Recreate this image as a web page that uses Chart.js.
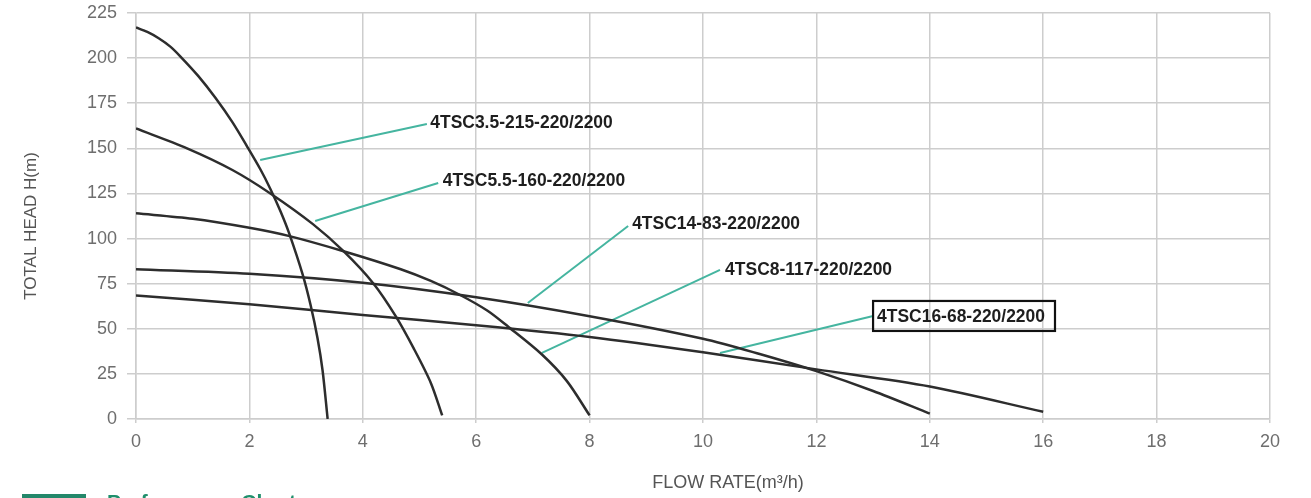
<!DOCTYPE html>
<html>
<head>
<meta charset="utf-8">
<title>Performance Chart</title>
<script src="https://cdn.jsdelivr.net/npm/chart.js@4.4.1/dist/chart.umd.min.js"></script>
<style>
  html, body { margin: 0; padding: 0; background: #fff; overflow: hidden; }
  #wrap { position: relative; width: 1311px; height: 498px; overflow: hidden; }
  #chart { position: absolute; left: 0; top: 0; }
  .tag { position: absolute; left: 22px; top: 494px; width: 64px; height: 12px; background: #23876a; }
  .caption { position: absolute; left: 107px; top: 490px; line-height: 21px;
             font: bold 21px "Liberation Sans", Arial, sans-serif; color: #1f8f6c; white-space: nowrap; }
</style>
</head>
<body>
<div id="wrap">
  <canvas id="chart" width="1311" height="498"></canvas>
  <div class="tag"></div>
  <div class="caption">Performance Chart</div>
</div>
<script>
// 型号名称
const pumpNames = ['4TSC3.5-215-220/2200', '4TSC5.5-160-220/2200', '4TSC8-117-220/2200',
                   '4TSC14-83-220/2200', '4TSC16-68-220/2200'];

// 各型号曲线 (流量 m3/h, 扬程 m)
const flow1 = [0, 0.2, 0.4, 0.6, 0.78, 1.1, 1.4, 1.7, 1.96, 2.2, 2.37, 2.55, 2.7, 2.94, 3.08, 3.2, 3.29, 3.38];
const head1 = [217, 214.5, 211, 206.5, 201, 190, 178, 164.5, 151, 138, 127.5, 115, 103, 80, 63, 45, 27, 0];

const flow2 = [0, 0.9, 1.7, 2.37, 3.12, 3.66, 4.19, 4.58, 4.9, 5.2, 5.4];
const head2 = [161, 150, 138, 125, 108, 93, 75, 57, 39, 20, 2];

const flow3 = [0, 1, 2, 2.69, 3.66, 4.67, 5.2, 5.7, 6.2, 6.57, 7.15, 7.6, 8];
const head3 = [114, 111, 106, 101.5, 93, 83, 76.5, 69, 60, 51, 36, 21, 2];

const flow4 = [0, 2, 4, 6, 8, 10, 11, 12, 13, 14];
const head4 = [83, 80.5, 75.5, 67.5, 57, 44.5, 36, 26.5, 15.5, 3];

const flow5 = [0, 2, 4, 6, 8, 10, 12, 14, 16];
const head5 = [68.5, 63.6, 57.6, 52, 45.5, 37, 27.5, 18, 4];

// 坐标轴
const flowTicks = [0, 2, 4, 6, 8, 10, 12, 14, 16, 18, 20];
const headTicks = [0, 25, 50, 75, 100, 125, 150, 175, 200, 225];

const xTitle = 'FLOW RATE(m³/h)';
const yTitle = 'TOTAL HEAD H(m)';

function toPoints(xs, ys) {
    return xs.map((x, i) => ({ x: x, y: ys[i] }));
}

const curves = [[flow1, head1], [flow2, head2], [flow3, head3], [flow4, head4], [flow5, head5]];

// 标注引线与文字位置 (数据坐标)
const callouts = [
    { name: 0, from: [2.19, 143.5], to: [5.13, 163.5], text: [5.19, 164.6] },
    { name: 1, from: [3.16, 109.7], to: [5.33, 130.8], text: [5.41, 132.5] },
    { name: 3, from: [6.91, 64.3], to: [8.68, 107], text: [8.75, 108.6] },
    { name: 2, from: [7.16, 36.6], to: [10.3, 82.6], text: [10.39, 83.1] },
    { name: 4, from: [10.3, 36.6], to: [13.0, 57.1], text: [13.07, 57.1], boxed: true }
];

const calloutPlugin = {
    id: 'callouts',
    beforeDatasetsDraw(chart) {
        const { ctx, scales: { x, y } } = chart;
        ctx.save();
        ctx.strokeStyle = '#45b5a0';
        ctx.lineWidth = 2;
        callouts.forEach(c => {
            ctx.beginPath();
            ctx.moveTo(x.getPixelForValue(c.from[0]), y.getPixelForValue(c.from[1]));
            ctx.lineTo(x.getPixelForValue(c.to[0]), y.getPixelForValue(c.to[1]));
            ctx.stroke();
        });
        ctx.restore();
    },
    afterDatasetsDraw(chart) {
        const { ctx, chartArea, scales: { x, y } } = chart;
        ctx.save();
        ctx.font = 'bold 18px "Liberation Sans", Arial, sans-serif';
        ctx.fillStyle = '#1e1e1e';
        ctx.textBaseline = 'middle';
        callouts.forEach(c => {
            const px = x.getPixelForValue(c.text[0]);
            const py = y.getPixelForValue(c.text[1]);
            const label = pumpNames[c.name];
            const w = ctx.measureText(label).width * 0.97;
            ctx.save();
            ctx.translate(px, py);
            ctx.scale(0.97, 1);
            ctx.fillText(label, 0, 1);
            ctx.restore();
            if (c.boxed) {
                ctx.strokeStyle = '#111';
                ctx.lineWidth = 2.2;
                ctx.strokeRect(px - 4, py - 15, w + 14, 30);
            }
        });

        // 坐标轴标题
        ctx.fillStyle = '#555';
        ctx.font = '18px "Liberation Sans", Arial, sans-serif';
        ctx.textAlign = 'center';
        ctx.fillText(xTitle, chartArea.left + 592, 483);
        ctx.translate(31, chartArea.top + 213);
        ctx.rotate(-Math.PI / 2);
        ctx.font = '17px "Liberation Sans", Arial, sans-serif';
        ctx.fillText(yTitle, 0, 0);
        ctx.restore();
    }
};

const gridColor = '#cdcdcd';
const tickFont = { family: '"Liberation Sans", Arial, sans-serif', size: 18 };

new Chart(document.getElementById('chart'), {
    type: 'scatter',
    data: {
        datasets: curves.map((c, i) => ({
            label: pumpNames[i],
            data: toPoints(c[0], c[1]),
            showLine: true,
            borderColor: '#2d2d2d',
            borderWidth: 2.5,
            pointRadius: 0,
            tension: 0.3,
            fill: false
        }))
    },
    options: {
        responsive: false,
        animation: false,
        devicePixelRatio: 1,
        layout: { padding: { left: 0, top: 13, right: 41, bottom: 0 } },
        plugins: { legend: { display: false }, tooltip: { enabled: false } },
        scales: {
            x: {
                type: 'linear',
                min: flowTicks[0],
                max: flowTicks[flowTicks.length - 1],
                afterBuildTicks: s => { s.ticks = flowTicks.map(v => ({ value: v })); },
                afterFit: s => { s.height = 79; s.paddingLeft = 0; s.paddingRight = 0; },
                grid: { color: gridColor, lineWidth: 1.5, tickLength: 4 },
                border: { color: gridColor, width: 1.5 },
                ticks: { font: tickFont, color: '#6e6e6e', padding: 8, maxRotation: 0 }
            },
            y: {
                type: 'linear',
                min: headTicks[0],
                max: headTicks[headTicks.length - 1],
                afterBuildTicks: s => { s.ticks = headTicks.map(v => ({ value: v })); },
                afterFit: s => { s.width = 136; s.paddingTop = 0; s.paddingBottom = 0; },
                grid: { color: gridColor, lineWidth: 1.5, tickLength: 9 },
                border: { color: gridColor, width: 1.5 },
                ticks: { font: tickFont, color: '#6e6e6e', padding: 10 }
            }
        }
    },
    plugins: [calloutPlugin]
});
</script>
</body>
</html>
